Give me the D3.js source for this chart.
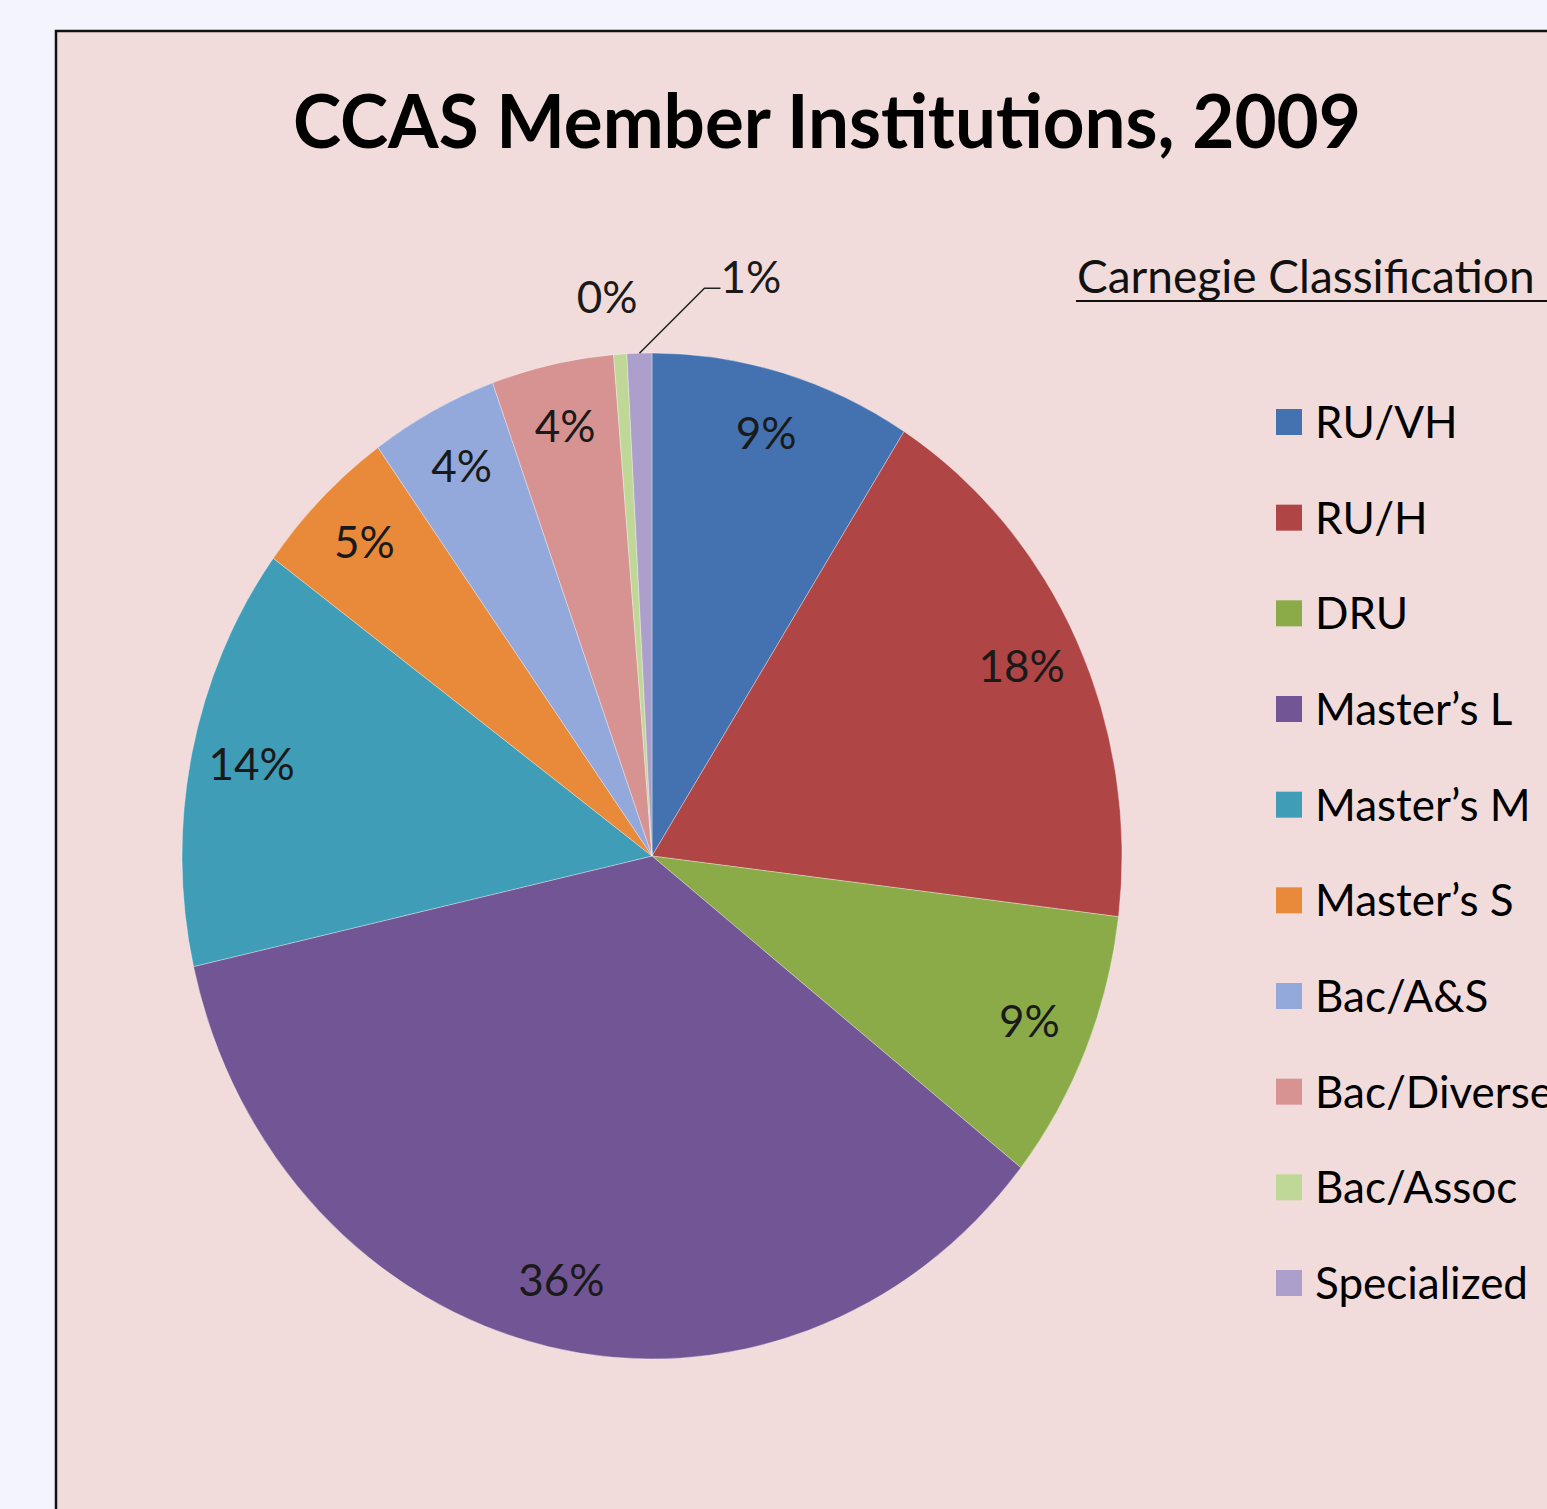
<!DOCTYPE html>
<html><head><meta charset="utf-8">
<script src="https://cdn.jsdelivr.net/npm/d3@7"></script>
<style>html,body{margin:0;padding:0;background:#f3f4fc;}svg{display:block;}</style>
</head><body>
<script>
const categories = ["RU/VH","RU/H","DRU","Master\u2019s L","Master\u2019s M","Master\u2019s S","Bac/A&S","Bac/Diverse","Bac/Assoc","Specialized"];
const shares = [9.0, 17.9, 8.7, 35.8, 13.6, 5.0, 4.4, 4.2, 0.45, 0.85];
const colors = ["#4472b0","#b04545","#8aab48","#725594","#3f9db8","#e98a3a","#93a9dc","#d79292","#bfd898","#ad9fcb"];
const titleText = "CCAS Member Institutions, 2009";
const legendTitle = "Carnegie Classification";

const W = 1547, H = 1509;
const svg = d3.select("body").append("svg").attr("width", W).attr("height", H);
const font = "Lato, 'Open Sans', sans-serif";

svg.append("rect").attr("width", W).attr("height", H).attr("fill", "#f3f4fc");
svg.append("rect").attr("x", 56).attr("y", 31).attr("width", W).attr("height", H)
  .attr("fill", "#f2dcdb").attr("stroke", "#111").attr("stroke-width", 2.5);

svg.append("text").attr("x", 827).attr("y", 148).attr("text-anchor", "middle")
  .attr("font-family", font).attr("font-weight", 700).attr("font-size", 74)
  .attr("textLength", 1068).attr("lengthAdjust", "spacingAndGlyphs")
  .attr("fill", "#000").text(titleText);

// pie (elliptical as in the source image)
const cx = 652, cy = 856, R = 503, sx = 470 / 503;
const total = d3.sum(shares);
const pie = d3.pie().sort(null).value(d => d);
const arcs = pie(shares);
const arc = d3.arc().innerRadius(0).outerRadius(R);
const g = svg.append("g").attr("transform", `translate(${cx},${cy}) scale(${sx},1)`);
g.selectAll("path").data(arcs).join("path")
  .attr("d", arc).attr("fill", (d, i) => colors[i])
  .attr("stroke", "rgba(255,255,255,0.35)").attr("stroke-width", 1);

const labelArc = d3.arc().innerRadius(R * 0.87).outerRadius(R * 0.87);
const pct = v => Math.round(v / total * 100) + "%";
const lab = svg.append("g").attr("font-family", font).attr("font-size", 44).attr("fill", "#1a1a1a");
arcs.forEach((a, i) => {
  const v = shares[i] / total * 100;
  if (v >= 1.5) {
    const [x, y] = labelArc.centroid(a);
    lab.append("text").attr("x", cx + x * sx).attr("y", cy + y).attr("dy", "0.3em")
      .attr("text-anchor", "middle").text(pct(shares[i]));
  } else {
    const mid = (a.startAngle + a.endAngle) / 2;
    const ex = cx + Math.sin(mid) * R * sx, ey = cy - Math.cos(mid) * R;
    if (categories[i] === "Specialized") {
      const kx = ex + 65, ky = ey - 65;
      lab.append("path").attr("d", `M${ex},${ey}L${kx},${ky}L${kx + 16},${ky}`)
        .attr("fill", "none").attr("stroke", "#222").attr("stroke-width", 1.5);
      lab.append("text").attr("x", kx + 16).attr("y", ky).attr("dy", "0.1em").text(pct(shares[i]));
    } else {
      lab.append("text").attr("x", ex - 13).attr("y", ey - 57).attr("text-anchor", "middle")
        .attr("dy", "0.36em").text(pct(shares[i]));
    }
  }
});

// legend
svg.append("text").attr("x", 1077).attr("y", 293).attr("font-family", font)
  .attr("font-size", 46).attr("fill", "#111").text(legendTitle);
svg.append("line").attr("x1", 1076).attr("x2", W).attr("y1", 301).attr("y2", 301)
  .attr("stroke", "#111").attr("stroke-width", 2);

const ly = d3.scalePoint().domain(categories).range([422, 1283]);
const leg = svg.append("g").attr("font-family", font).attr("font-size", 44).attr("fill", "#000");
categories.forEach((c, i) => {
  leg.append("rect").attr("x", 1276).attr("y", ly(c) - 13).attr("width", 26).attr("height", 26)
    .attr("fill", colors[i]);
  leg.append("text").attr("x", 1315).attr("y", ly(c) + 16).text(c);
});
</script>
</body></html>
